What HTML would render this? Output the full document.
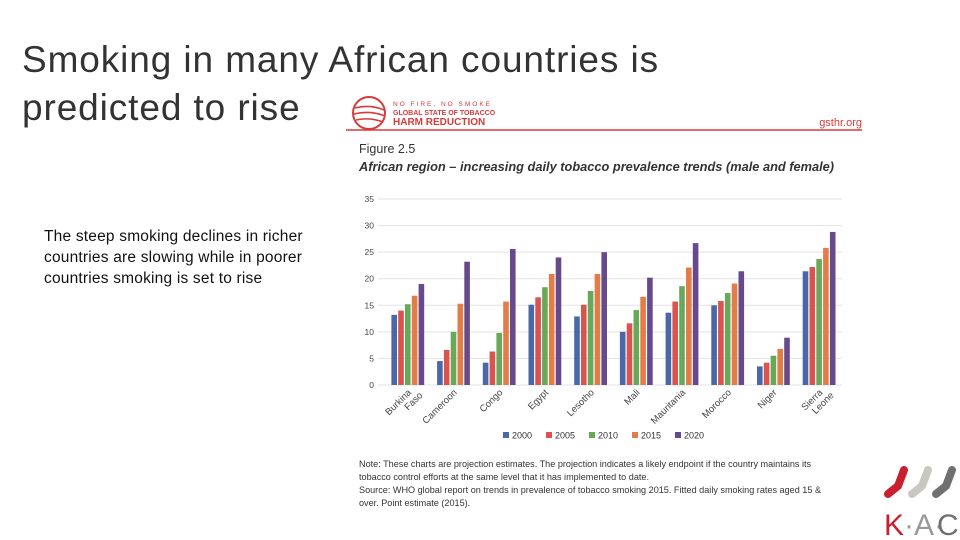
<!DOCTYPE html>
<html><head><meta charset="utf-8"><style>
body{margin:0;width:960px;height:540px;background:#fff;position:relative;overflow:hidden;font-family:"Liberation Sans",sans-serif}
.t{position:absolute;left:22px;top:36px;font-size:37px;line-height:48px;color:#333;font-weight:normal;letter-spacing:0.9px}
.sub{position:absolute;left:44px;top:226px;font-size:15.5px;line-height:21px;color:#111;width:300px;letter-spacing:0.2px}
</style></head><body>
<div class="t">Smoking in many African countries is<br>predicted to rise</div>
<div class="sub">The steep smoking declines in richer countries are slowing while in poorer countries smoking is set to rise</div>
<svg width="960" height="540" style="position:absolute;left:0;top:0">
<g>
<circle cx="369" cy="113" r="16" fill="none" stroke="#d63c3c" stroke-width="2"/>
<path d="M355 108 Q370 104 384 110 M354 114 Q370 110 385 116 M356 120 Q370 117 383 122" stroke="#d63c3c" stroke-width="1.6" fill="none"/>
<text x="393" y="106" font-size="6.5" fill="#d63c3c" letter-spacing="2">NO FIRE, NO SMOKE</text>
<text x="393" y="115" font-size="7" font-weight="bold" fill="#d63c3c">GLOBAL STATE OF TOBACCO</text>
<text x="393" y="125" font-size="10" font-weight="bold" fill="#d63c3c">HARM REDUCTION</text>
</g>
<text x="862" y="126" font-size="11" fill="#d63c3c" text-anchor="end">gsthr.org</text>
<line x1="346" y1="130" x2="862" y2="130" stroke="#d63c3c" stroke-width="1.5"/>
<text x="359" y="153" font-size="12.5" fill="#333">Figure 2.5</text>
<text x="359" y="171" font-size="12.8" font-weight="bold" font-style="italic" fill="#333">African region – increasing daily tobacco prevalence trends (male and female)</text>
<g id="chart"></g>
<g font-size="9.1" fill="#333">
<text x="359" y="467">Note: These charts are projection estimates. The projection indicates a likely endpoint if the country maintains its</text>
<text x="359" y="480">tobacco control efforts at the same level that it has implemented to date.</text>
<text x="359" y="493">Source: WHO global report on trends in prevalence of tobacco smoking 2015. Fitted daily smoking rates aged 15 &amp;</text>
<text x="359" y="506">over. Point estimate (2015).</text>
</g>
<g>
<path d="M904 470 L898 486 L888 494" stroke="#c8202e" stroke-width="8" stroke-linecap="round" fill="none"/>
<path d="M928 470 L922 486 L912 494" stroke="#c8c8c0" stroke-width="8" stroke-linecap="round" fill="none"/>
<path d="M952 470 L946 486 L936 494" stroke="#707070" stroke-width="8" stroke-linecap="round" fill="none"/>
<text x="884" y="535" font-size="30" fill="#c8202e">K</text>
<text x="904" y="535" font-size="30" fill="#999">·A·</text>
<text x="937" y="535" font-size="30" fill="#707070">C</text>
</g>
</svg>
<script>
const categories=["Burkina Faso","Cameroon","Congo","Egypt","Lesotho","Mali","Mauritania","Morocco","Niger","Sierra Leone"];
const years=["2000","2005","2010","2015","2020"];
const s2000=[13.2,4.5,4.2,15.1,12.9,10,13.6,15,3.5,21.4];
const s2005=[14,6.6,6.3,16.5,15.1,11.6,15.7,15.8,4.2,22.2];
const s2010=[15.2,10,9.8,18.4,17.7,14.1,18.6,17.3,5.5,23.7];
const s2015=[16.8,15.3,15.7,20.9,20.9,16.6,22.1,19.1,6.8,25.8];
const s2020=[19,23.2,25.6,24,25,20.2,26.7,21.4,8.9,28.8];
const yTicks=[0,5,10,15,20,25,30,35];
const series=[s2000,s2005,s2010,s2015,s2020];
const colors=["#4a68a8","#d9534f","#68a859","#e27d48","#674a8c"];
const NS="http://www.w3.org/2000/svg";
const g=document.getElementById("chart");
const y=v=>385-v*(186/35);
const x0=385,gw=45.7;
const gx=i=>x0+i*gw+22.8;
function mk(t,a){const e=document.createElementNS(NS,t);for(const k in a)e.setAttribute(k,a[k]);g.appendChild(e);return e;}
yTicks.forEach(v=>{
 const l=mk("line",{x1:378,x2:842,y1:y(v),y2:y(v),stroke:"#e3e3e8","stroke-width":1});
 
 
 const t=mk("text",{x:374,y:y(v)+3,"font-size":8.5,fill:"#444","text-anchor":"end"});t.textContent=v;
 
 
});
categories.forEach((c,i)=>{
 series.forEach((s,j)=>{
  const bx=gx(i)+(j-2)*6.8-2.8;
  const r=mk("rect",{x:bx,y:y(s[i]),width:5.6,height:y(0)-y(s[i]),fill:colors[j]});
  
  
 });
 const parts=c.split(" ");
 const t=mk("text",{"font-size":9.5,fill:"#444","text-anchor":"end",transform:`translate(${gx(i)+4},${393}) rotate(-45)`});
 parts.forEach((p,k)=>{const ts=document.createElementNS(NS,"tspan");ts.setAttribute("x",k*6);ts.setAttribute("dy",k?10:0);ts.textContent=p;t.appendChild(ts);});
 
 
});
years.forEach((yr,j)=>{
 const lx=503+j*43;
 const r=mk("rect",{x:lx,y:432,width:6,height:6,fill:colors[j]});
 
 
 const t=mk("text",{x:lx+9,y:438.5,"font-size":9,fill:"#333"});t.textContent=yr;
 
 
});
</script>
</body></html>
